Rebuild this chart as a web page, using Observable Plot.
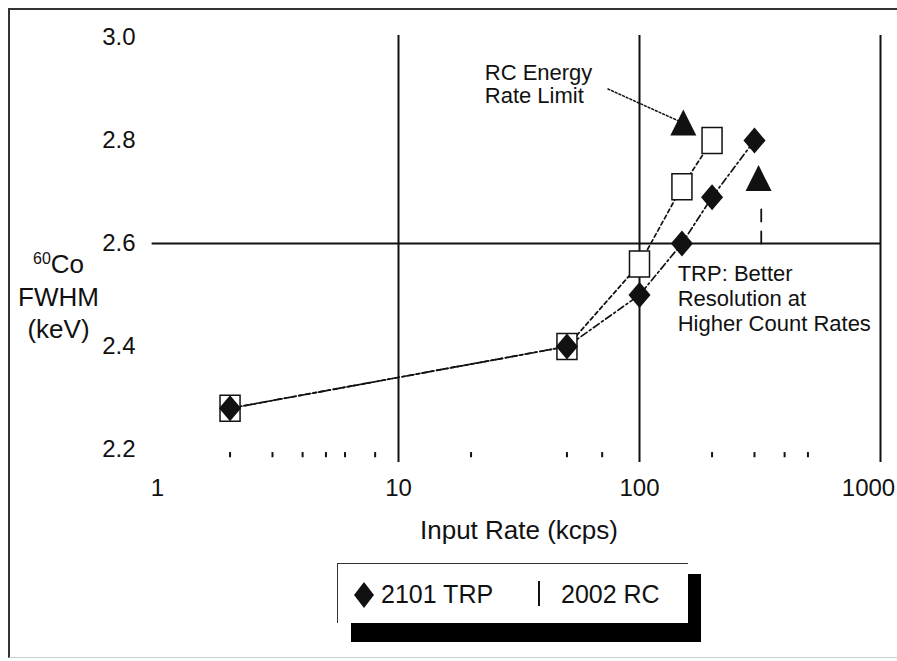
<!DOCTYPE html>
<html>
<head>
<meta charset="utf-8">
<script src="https://cdn.jsdelivr.net/npm/d3@7"></script>
<script src="https://cdn.jsdelivr.net/npm/@observablehq/plot@0.6"></script>
<style>
  html, body { margin: 0; padding: 0; background: #fff; }
  #wrap { position: relative; width: 897px; height: 661px; overflow: hidden;
          font-family: "Liberation Sans", Arial, sans-serif; color: #111; }
  #frame { position: absolute; left: 8px; top: 8px; width: 900px; height: 650px;
           border-left: 2px solid #333; border-top: 2px solid #333; border-bottom: 1px solid #ccc;
           box-sizing: border-box; }
  #chart { position: absolute; left: 0; top: 0; }
  #legendShadow { position: absolute; left: 351px; top: 574px; width: 350px; height: 68px; background: #000; }
  #legend { position: absolute; left: 337px; top: 563px; width: 351px; height: 60px;
            border: 1px solid #333; border-right: none; border-bottom: none; background: #fff; box-sizing: border-box; }
  #legend .lbl { position: absolute; top: 15px; font-size: 25px; line-height: 30px; white-space: nowrap; }
  #legend svg { position: absolute; }
  #legend .bar { position: absolute; width: 2px; height: 25px; background: #111; }
</style>
</head>
<body>
<div id="wrap">
  <div id="frame"></div>
  <div id="chart"></div>
  <div id="legendShadow"></div>
  <div id="legend"></div>
</div>
<script>
// ---------------- data ----------------
const seriesNames = ["2101 TRP", "2002 RC"];
const trpRate = [2, 50, 100, 150, 200, 300];
const trpFwhm = [2.28, 2.40, 2.50, 2.60, 2.69, 2.80];
const rcRate  = [2, 50, 100, 150, 200];
const rcFwhm  = [2.28, 2.40, 2.56, 2.71, 2.80];

const xTicks = [1, 10, 100];
const xLastTick = [1000];
const xMinorTicks = [2, 3, 4, 5, 6, 8, 20, 50, 70, 200, 300, 400, 500];
const yTicks = [2.2, 2.4, 2.6, 2.8, 3.0];
const xGrid = [10, 100, 1000];
const yGrid = [2.6];
const xTitle = "Input Rate (kcps)";
const yTitle = ["⁶⁰Co", "FWHM", "(keV)"];

// annotations (data space)
const noteRcText = ["RC Energy", "Rate Limit"];
const noteRcAt = [22.8, 2.91];
const noteRcArrowX = [74, 150];
const noteRcArrowY = [2.90, 2.835];
const noteRcHead = [152, 2.835];
const noteTrpText = ["TRP: Better", "Resolution at", "Higher Count Rates"];
const noteTrpAt = [144, 2.495];
const noteTrpArrowX = [320, 320];
const noteTrpArrowY = [2.60, 2.68];
const noteTrpHead = [312, 2.727];

// ---------------- symbols ----------------
const tallDiamond = { draw(ctx, size) { const r = Math.sqrt(size / Math.PI);
  ctx.moveTo(0, -r); ctx.lineTo(0.85 * r, 0); ctx.lineTo(0, r); ctx.lineTo(-0.85 * r, 0); ctx.closePath(); } };
const tallSquare = { draw(ctx, size) { const r = Math.sqrt(size / Math.PI);
  ctx.rect(-0.77 * r, -r, 1.54 * r, 2 * r); } };
const headTri = { draw(ctx, size) { const r = Math.sqrt(size / Math.PI);
  ctx.moveTo(0, -r); ctx.lineTo(r, r); ctx.lineTo(-r, r); ctx.closePath(); } };

const trp = trpRate.map((x, i) => ({x, y: trpFwhm[i]}));
const rc = rcRate.map((x, i) => ({x, y: rcFwhm[i]}));
const rcArrow = noteRcArrowX.map((x, i) => ({x, y: noteRcArrowY[i]}));
const trpArrow = noteTrpArrowX.map((x, i) => ({x, y: noteTrpArrowY[i]}));
const heads = [{x: noteRcHead[0], y: noteRcHead[1]}, {x: noteTrpHead[0], y: noteTrpHead[1]}];

const ink = "#111";
const chart = Plot.plot({
  width: 897, height: 560,
  marginLeft: 157, marginRight: 17, marginTop: 37, marginBottom: 111,
  x: {type: "log", domain: [1, 1000]},
  y: {domain: [2.2, 3.0]},
  style: {fontFamily: "'Liberation Sans', Arial, sans-serif", color: ink, background: "transparent", overflow: "visible"},
  marks: [
    Plot.ruleX(xGrid, {y1: 2.175, y2: 3.004, stroke: ink, strokeWidth: 2}),
    Plot.ruleY(yGrid, {x1: 0.95, x2: 1000, stroke: ink, strokeWidth: 2}),
    Plot.ruleX(xMinorTicks, {y1: 2.194, y2: 2.184, stroke: ink, strokeWidth: 2}),
    Plot.axisY(yTicks, {tickSize: 0, tickPadding: 22, fontSize: 24, tickFormat: d => d.toFixed(1), label: null}),
    Plot.axisX(xTicks, {tickSize: 0, tickPadding: 29, fontSize: 24, tickFormat: d => String(d), label: null}),
    Plot.axisX(xLastTick, {tickSize: 0, tickPadding: 29, fontSize: 24, dx: -12, tickFormat: d => String(d), label: null}),
    Plot.text([xTitle], {frameAnchor: "bottom", dy: 81, fontSize: 26, lineAnchor: "middle", fill: ink}),
    Plot.text([yTitle.join("\n")], {frameAnchor: "left", dx: -99, dy: 52, fontSize: 26, textAnchor: "middle", lineAnchor: "middle", lineHeight: 1.25, fill: ink}),
    // series lines
    Plot.line(rc, {x: "x", y: "y", stroke: ink, strokeWidth: 1.7, strokeDasharray: "4,3"}),
    Plot.line(trp, {x: "x", y: "y", stroke: ink, strokeWidth: 1.7, strokeDasharray: "7,3,2,3"}),
    // annotation arrows
    Plot.line(rcArrow, {x: "x", y: "y", stroke: ink, strokeWidth: 1.5, strokeDasharray: "2,2"}),
    Plot.line(trpArrow, {x: "x", y: "y", stroke: ink, strokeWidth: 1.8, strokeDasharray: "12,10"}),
    Plot.dot(heads, {x: "x", y: "y", symbol: headTri, r: 13, fill: ink, stroke: null}),
    // markers
    Plot.dot(rc, {x: "x", y: "y", symbol: tallSquare, r: 13, fill: "white", stroke: ink, strokeWidth: 1.5}),
    Plot.dot(trp, {x: "x", y: "y", symbol: tallDiamond, r: 13, fill: ink, stroke: null}),
    // annotation texts
    Plot.text([noteRcText.join("\n")], {x: noteRcAt[0], y: noteRcAt[1], textAnchor: "start", lineAnchor: "middle", fontSize: 22, lineHeight: 1.05, fill: ink}),
    Plot.text([noteTrpText.join("\n")], {x: noteTrpAt[0], y: noteTrpAt[1], textAnchor: "start", lineAnchor: "middle", fontSize: 22, lineHeight: 1.14, fill: ink})
  ]
});
document.getElementById("chart").appendChild(chart);

// render the isotope mass number as a real superscript
const svgNS = "http://www.w3.org/2000/svg";
chart.querySelectorAll("text, tspan").forEach(el => {
  if (el.childElementCount === 0 && el.textContent.startsWith("⁶⁰")) {
    const rest = el.textContent.slice(2);
    el.textContent = "";
    const sup = document.createElementNS(svgNS, "tspan");
    sup.setAttribute("font-size", "16");
    sup.setAttribute("dy", "-9");
    sup.textContent = "60";
    const base = document.createElementNS(svgNS, "tspan");
    base.setAttribute("dy", "9");
    base.textContent = rest;
    el.appendChild(sup);
    el.appendChild(base);
  }
});

// ---------------- legend ----------------
const legend = document.getElementById("legend");
legend.innerHTML =
  `<svg style="left:16px;top:18px" width="22" height="26"><path d="M10 0 L20 13 L10 26 L0 13Z" fill="${ink}"/></svg>` +
  `<span class="lbl" style="left:43px">${seriesNames[0]}</span>` +
  `<span class="bar" style="left:200px;top:17px"></span>` +
  `<span class="lbl" style="left:223px">${seriesNames[1]}</span>`;
</script>
</body>
</html>
